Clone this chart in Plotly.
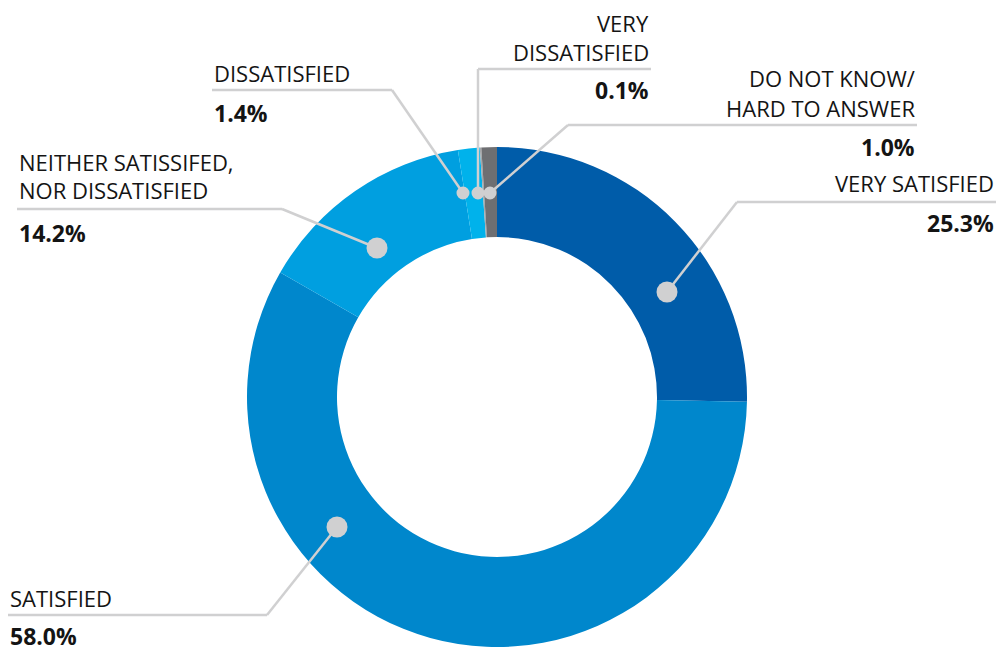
import plotly.graph_objects as go

# ---- data ----
categories = ["VERY SATISFIED", "SATISFIED", "NEITHER SATISSIFED,<br>NOR DISSATISFIED",
              "DISSATISFIED", "VERY<br>DISSATISFIED", "DO NOT KNOW/<br>HARD TO ANSWER"]
values = [25.3, 58.0, 14.2, 1.4, 0.1, 1.0]
colors = ["#005CA9", "#0087CC", "#009FE0", "#00B2EB", "#A5A7AA", "#6E6F72"]

# ---- label layout (pixel positions, y downward) ----
label_cfg = [
    dict(side="right", x=996, lines=[183], uy=202, ex=737, dot=(667, 292), r=10.5, py=223),
    dict(side="left", x=8, lines=[598], uy=615, ex=267, dot=(337, 527), r=10.5, py=636),
    dict(side="left", x=17, lines=[162, 190], uy=209, ex=282, dot=(377, 248), r=10.5, py=233),
    dict(side="left", x=212, lines=[73], uy=90, ex=392, dot=(463, 193), r=6.5, py=113),
    dict(side="right", x=651, lines=[23, 52], uy=69, ex=478, dot=(478, 193), r=6.5, py=90),
    dict(side="right", x=917, lines=[78, 108], uy=125, ex=568, dot=(490, 193), r=6.5, py=147),
]

W, H = 1000, 651
cx, cy, R = 497, 397, 250
FONT = "Open Sans"
LINE_COLOR = "#D0D0D1"
TEXT_COLOR = "#141414"

fig = go.Figure()
fig.add_trace(go.Pie(
    labels=categories, values=values, sort=False, direction="clockwise", rotation=0,
    hole=0.64, marker=dict(colors=colors, line=dict(width=0)),
    textinfo="none", hoverinfo="label+percent", showlegend=False,
    domain=dict(x=[(cx - R) / W, (cx + R) / W], y=[(H - cy - R) / H, (H - cy + R) / H]),
))

shapes = []
annotations = []
for cat, val, cfg in zip(categories, values, label_cfg):
    tx = cfg["x"]
    shapes.append(dict(type="line", x0=tx, x1=cfg["ex"], y0=cfg["uy"], y1=cfg["uy"],
                       line=dict(color=LINE_COLOR, width=2.5), layer="above"))
    dx, dy = cfg["dot"]
    shapes.append(dict(type="line", x0=cfg["ex"], y0=cfg["uy"], x1=dx, y1=dy,
                       line=dict(color=LINE_COLOR, width=2.5), layer="above"))
    r = cfg["r"]
    shapes.append(dict(type="circle", x0=dx - r, x1=dx + r, y0=dy - r, y1=dy + r,
                       fillcolor=LINE_COLOR, line=dict(width=0), layer="above"))
    anchor = "left" if cfg["side"] == "left" else "right"
    for line_text, ly in zip(cat.split("<br>"), cfg["lines"]):
        annotations.append(dict(x=tx, y=ly, text=line_text, showarrow=False, xanchor=anchor,
                                yanchor="middle", xref="x", yref="y",
                                font=dict(family=FONT, size=22, color=TEXT_COLOR)))
    annotations.append(dict(x=tx, y=cfg["py"], text=f"<b>{val:.1f}%</b>", showarrow=False,
                            xanchor=anchor, yanchor="middle", xref="x", yref="y",
                            font=dict(family=FONT, size=23, color=TEXT_COLOR)))

fig.update_layout(
    width=W, height=H, margin=dict(l=0, r=0, t=0, b=0),
    paper_bgcolor="white", plot_bgcolor="rgba(0,0,0,0)",
    xaxis=dict(range=[0, W], visible=False, fixedrange=True),
    yaxis=dict(range=[H, 0], visible=False, fixedrange=True),
    shapes=shapes, annotations=annotations,
)

fig.write_html("out.html", config={"displayModeBar": False},
               post_script="document.body.style.margin='0';")
